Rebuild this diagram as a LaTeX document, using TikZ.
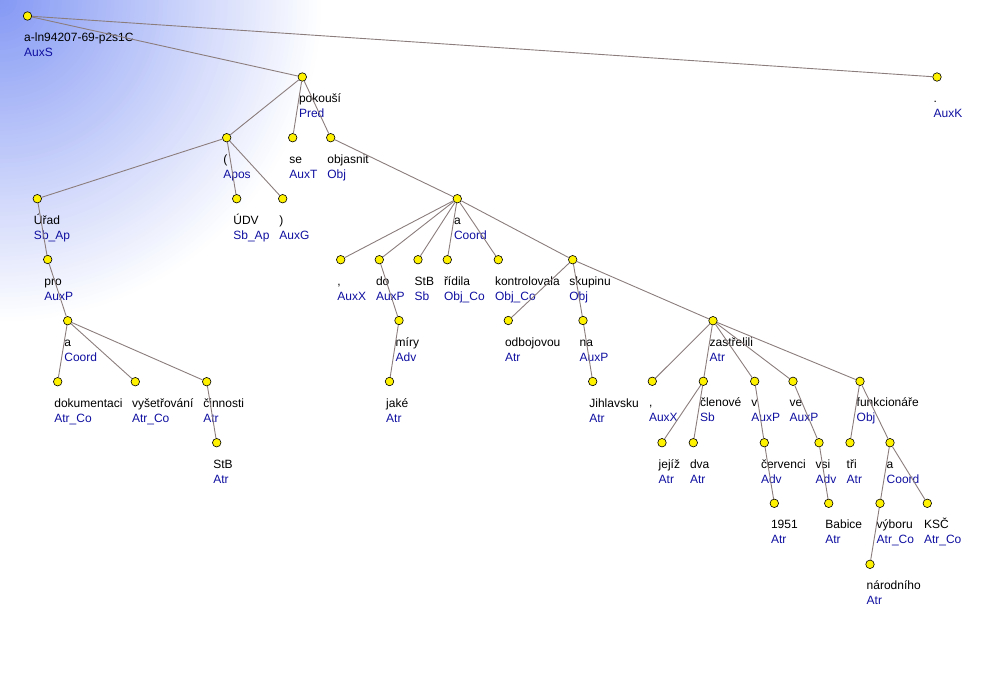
\documentclass[tikz,border=0pt]{standalone}
\usepackage{fontspec}
\setmainfont{Liberation Sans}
\usetikzlibrary{calc}
\definecolor{treeblue}{RGB}{132,152,244}
\definecolor{treeedge}{RGB}{140,125,125}
\definecolor{treefun}{RGB}{15,15,160}
\tikzset{
  tnode/.style={circle,draw=black,fill=yellow,line width=0.6pt,minimum size=8.5pt,inner sep=0pt},
  tedge/.style={draw=treeedge,line width=0.9pt},
  tword/.style={anchor=base west,inner sep=0pt,font=\fontsize{12}{15}\selectfont},
  tfun/.style={tword,text=treefun},
}

\begin{document}
\begin{tikzpicture}[x=1pt,y=-1pt]
\useasboundingbox (0,0) rectangle (989,673);

% ============ background fade (rings, outside in) ============
\begin{scope}
  \clip (0,0) rectangle (989,673);
  \foreach \i in {0,...,80} {
    \pgfmathtruncatemacro\p{1.25*\i}
    \fill[treeblue!\p!white] (0,0) circle ({325-4.05*\i});
  }
\end{scope}

% ============ tree nodes: name/x/y/word/function ============
\foreach \n/\x/\y/\w/\f in {%
  root/27.5/16/{a-ln94207-69-p2s1C}/AuxS,
  pokousi/302.3/77/{pokouší}/Pred,
  dot/937/77/{.}/AuxK,
  lpar/226.7/137.7/{(}/Apos,
  se/292.7/137.7/{se}/AuxT,
  objasnit/330.7/137.7/{objasnit}/Obj,
  urad/37.3/198.7/{Úřad}/Sb\_Ap,
  udv/236.7/198.7/{ÚDV}/Sb\_Ap,
  rpar/282.7/198.7/{)}/AuxG,
  a2/457.3/198.7/{a}/Coord,
  pro/47.7/259.5/{pro}/AuxP,
  comma1/340.7/259.7/{,}/AuxX,
  do/379.3/259.7/{do}/AuxP,
  stb2/418/259.7/{StB}/Sb,
  ridila/447.3/259.7/{řídila}/Obj\_Co,
  kontrolovala/498.3/259.7/{kontrolovala}/Obj\_Co,
  skupinu/572.7/259.7/{skupinu}/Obj,
  a1/67.7/320.7/{a}/Coord,
  miry/399/320.5/{míry}/Adv,
  odbojovou/508.3/320.5/{odbojovou}/Atr,
  na/583/320.5/{na}/AuxP,
  zastrelili/713/320.7/{zastřelili}/Atr,
  dokumentaci/57.7/381.7/{dokumentaci}/Atr\_Co,
  vysetrovani/135.3/381.7/{vyšetřování}/Atr\_Co,
  cinnosti/206.7/381.7/{činnosti}/Atr,
  jake/389.5/381.5/{jaké}/Atr,
  jihlavsku/592.7/381.5/{Jihlavsku}/Atr,
  comma2/652.3/381.3/{,}/AuxX,
  clenove/703.3/381.3/{členové}/Sb,
  v/754.7/381.3/{v}/AuxP,
  ve/793/381.3/{ve}/AuxP,
  funkcionare/860/381.3/{funkcionáře}/Obj,
  stb1/216.7/442.7/{StB}/Atr,
  jejiz/662/442.7/{jejíž}/Atr,
  dva/693.3/442.7/{dva}/Atr,
  cervenci/764.3/442.7/{červenci}/Adv,
  vsi/819/442.7/{vsi}/Adv,
  tri/850/442.7/{tři}/Atr,
  a3/890/442.7/{a}/Coord,
  y1951/774.3/503.3/{1951}/Atr,
  babice/828.7/503.3/{Babice}/Atr,
  vyboru/880/503.3/{výboru}/Atr\_Co,
  ksc/927.3/503.3/{KSČ}/Atr\_Co,
  narodniho/870/564.3/{národního}/Atr} {
  \node[tnode] (\n) at (\x,\y) {};
  \node[tword] (\n-w) at ($(\n)+(-3.5,25.5)$) {\w};
  \node[tfun] (\n-f) at ($(\n-w.base west)+(0,15)$) {\f};
}

% ============ dependency edges ============
\foreach \a/\b in {root/pokousi, root/dot, pokousi/lpar, pokousi/se, pokousi/objasnit,
  lpar/urad, lpar/udv, lpar/rpar, urad/pro, pro/a1, a1/dokumentaci, a1/vysetrovani,
  a1/cinnosti, cinnosti/stb1, objasnit/a2, a2/comma1, a2/do, a2/stb2, a2/ridila,
  a2/kontrolovala, a2/skupinu, do/miry, miry/jake, skupinu/odbojovou, skupinu/na,
  na/jihlavsku, skupinu/zastrelili, zastrelili/comma2, zastrelili/clenove,
  zastrelili/v, zastrelili/ve, zastrelili/funkcionare, clenove/jejiz, clenove/dva,
  v/cervenci, ve/vsi, funkcionare/tri, funkcionare/a3, cervenci/y1951, vsi/babice,
  a3/vyboru, a3/ksc, vyboru/narodniho}
  \draw[tedge] (\a) -- (\b);
\end{tikzpicture}
\end{document}
